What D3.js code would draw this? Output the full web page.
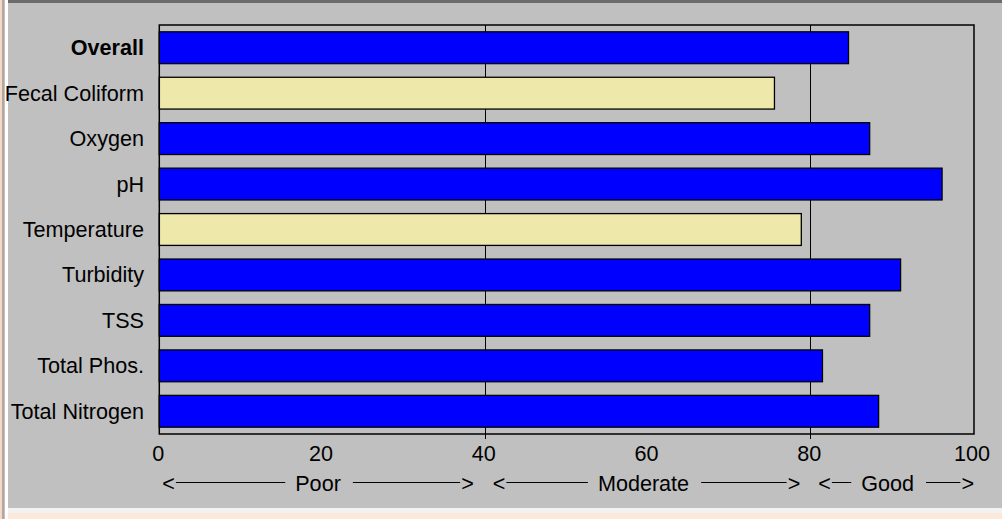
<!DOCTYPE html>
<html>
<head>
<meta charset="utf-8">
<script src="https://cdn.jsdelivr.net/npm/d3@7"></script>
<style>
  html, body { margin: 0; padding: 0; background: #ffffff; }
  svg { display: block; }
  text { font-family: "Liberation Sans", Arial, sans-serif; fill: #000; }
</style>
</head>
<body>
<svg id="chart" width="1002" height="519"></svg>
<script>
// ---- data ----
const categories = ["Overall", "Fecal Coliform", "Oxygen", "pH", "Temperature", "Turbidity", "TSS", "Total Phos.", "Total Nitrogen"];
const values = [84.7, 75.6, 87.3, 96.2, 78.9, 91.1, 87.3, 81.5, 88.4];
const tickValues = [0, 20, 40, 60, 80, 100];
const gridValues = [40, 80];
const zoneLabels = ["Poor", "Moderate", "Good"];
const zoneBounds = [[0, 40], [40, 80], [80, 100]];
const ratingBreaks = [40, 80];
const ratingColors = ["#ff4040", "#eee8aa", "#0000ff"];

// ---- layout ----
const W = 1002, H = 519;
const FS = 21.6;
const plot = { left: 159.3, right: 973, top: 25, bottom: 434 };
const svg = d3.select("#chart");

// page frame / background
svg.append("rect").attr("x", 0).attr("y", 0).attr("width", W).attr("height", H).attr("fill", "#ffffff");
svg.append("rect").attr("x", 0).attr("y", 0).attr("width", 2).attr("height", H).attr("fill", "#f4d9c8");
svg.append("rect").attr("x", 2).attr("y", 0).attr("width", 2.7).attr("height", H).attr("fill", "#b3a69e");
svg.append("rect").attr("x", 8).attr("y", 0).attr("width", W - 8).attr("height", 508).attr("fill", "#c0c0c0");
svg.append("rect").attr("x", 8).attr("y", 0).attr("width", W - 8).attr("height", 3).attr("fill", "#6b6b6b");
svg.append("rect").attr("x", 8).attr("y", 508).attr("width", W - 8).attr("height", 5).attr("fill", "#f2f2f2");
svg.append("rect").attr("x", 8).attr("y", 513).attr("width", W - 8).attr("height", 6).attr("fill", "#fde9d9");

const x = d3.scaleLinear().domain([0, 100]).range([plot.left, plot.right]);
const y = d3.scaleBand().domain(categories).range([plot.top, plot.bottom])
  .paddingInner(0.3).paddingOuter(0.15);
const color = d3.scaleThreshold().domain(ratingBreaks).range(ratingColors);

// grid lines (extend slightly below plot as tick)
svg.append("g").selectAll("line").data(gridValues).join("line")
  .attr("x1", d => Math.round(x(d)) + 0.5).attr("x2", d => Math.round(x(d)) + 0.5)
  .attr("y1", plot.top).attr("y2", plot.bottom + 5)
  .attr("stroke", "#000").attr("stroke-width", 1);

// bars
svg.append("g").selectAll("rect").data(categories).join("rect")
  .attr("x", x(0))
  .attr("y", d => y(d))
  .attr("width", (d, i) => x(values[i]) - x(0))
  .attr("height", y.bandwidth())
  .attr("fill", (d, i) => color(values[i]))
  .attr("stroke", "#000").attr("stroke-width", 1.3);

// plot frame
svg.append("rect")
  .attr("x", plot.left).attr("y", plot.top)
  .attr("width", plot.right - plot.left + 1).attr("height", plot.bottom - plot.top)
  .attr("fill", "none").attr("stroke", "#000").attr("stroke-width", 1.5);

// category labels
svg.append("g").selectAll("text").data(categories).join("text")
  .attr("x", 144)
  .attr("y", d => y(d) + y.bandwidth() / 2 + 7.5)
  .attr("text-anchor", "end")
  .attr("font-size", FS)
  .attr("font-weight", (d, i) => i === 0 ? "bold" : "normal")
  .text(d => d);

// x tick labels
svg.append("g").selectAll("text").data(tickValues).join("text")
  .attr("x", d => x(d) - 1)
  .attr("y", 461)
  .attr("text-anchor", "middle")
  .attr("font-size", FS)
  .text(d => d);

// rating zones row
const zoneOffsets = [[3, -11], [8, -10], [8, 1]];
const zy = 491;
const zg = svg.append("g");
zoneLabels.forEach((lab, i) => {
  const x0 = x(zoneBounds[i][0]) + zoneOffsets[i][0];
  const x1 = x(zoneBounds[i][1]) + zoneOffsets[i][1];
  const cx = (x(zoneBounds[i][0]) + x(zoneBounds[i][1])) / 2 - 4;
  const lt = zg.append("text").attr("x", x0).attr("y", zy).attr("font-size", FS).text("<");
  const gt = zg.append("text").attr("x", x1).attr("y", zy).attr("text-anchor", "end").attr("font-size", FS).text(">");
  const t = zg.append("text").attr("x", cx).attr("y", zy).attr("text-anchor", "middle").attr("font-size", FS).text(lab);
  const tw = t.node().getComputedTextLength();
  const lw = lt.node().getComputedTextLength();
  const gw = gt.node().getComputedTextLength();
  const ly = zy - 8.5;
  zg.append("line").attr("x1", x0 + lw + 1).attr("x2", cx - tw / 2 - 10)
    .attr("y1", ly).attr("y2", ly).attr("stroke", "#000").attr("stroke-width", 1);
  zg.append("line").attr("x1", cx + tw / 2 + 12).attr("x2", x1 - gw - 1)
    .attr("y1", ly).attr("y2", ly).attr("stroke", "#000").attr("stroke-width", 1);
});
</script>
</body>
</html>
